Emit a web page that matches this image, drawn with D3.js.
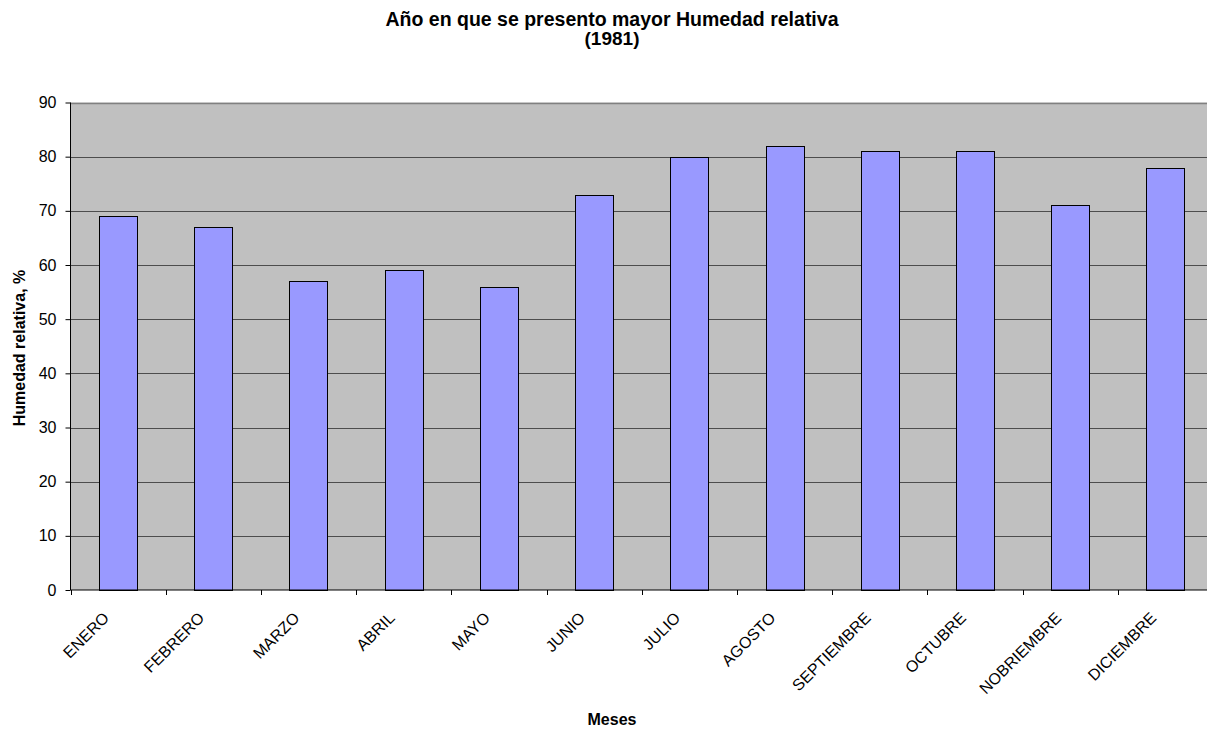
<!DOCTYPE html>
<html>
<head>
<meta charset="utf-8">
<script src="https://cdn.jsdelivr.net/npm/d3@7"></script>
<style>
  html, body { margin: 0; padding: 0; background: #fff; overflow: hidden; }
  svg { display: block; font-family: "Liberation Sans", Arial, sans-serif; }
</style>
</head>
<body>
<svg id="chart" width="1207" height="729"></svg>
<script>
// Monthly relative humidity for 1981
const months = ["ENERO", "FEBRERO", "MARZO", "ABRIL", "MAYO", "JUNIO",
  "JULIO", "AGOSTO", "SEPTIEMBRE", "OCTUBRE", "NOBRIEMBRE", "DICIEMBRE"];
const humidity = [69, 67, 57, 59, 56, 73, 80, 82, 81, 81, 71, 78];
const yTicks = [0, 10, 20, 30, 40, 50, 60, 70, 80, 90];

const title1 = "Año en que se presento mayor Humedad relativa";
const title2 = "(1981)";
const xTitle = "Meses";
const yTitle = "Humedad relativa, %";

const svg = d3.select("#chart");
const plot = { left: 70.5, right: 1213, top: 102.5, bottom: 590 };

const x = d3.scaleBand().domain(months).range([plot.left, plot.right]).padding(0);
const y = d3.scaleLinear().domain([0, 90]).range([plot.bottom, plot.top]);
const barW = x.bandwidth() * 0.4;

// plot background
svg.append("rect")
  .attr("x", plot.left).attr("y", plot.top)
  .attr("width", plot.right - plot.left).attr("height", plot.bottom - plot.top)
  .attr("fill", "#c0c0c0");

// horizontal gridlines
svg.append("g").selectAll("line").data(yTicks.filter(d => d > 0)).join("line")
  .attr("x1", plot.left).attr("x2", plot.right)
  .attr("y1", d => Math.round(y(d)) + 0.5).attr("y2", d => Math.round(y(d)) + 0.5)
  .attr("stroke", d => d === 90 ? "#808080" : "#4d4d4d")
  .attr("stroke-width", d => d === 90 ? 1.5 : 1);

// bars
svg.append("g").selectAll("rect").data(months).join("rect")
  .attr("x", (d) => Math.round(x(d) + (x.bandwidth() - barW) / 2) + 0.5)
  .attr("y", (d, i) => Math.round(y(humidity[i])) + 0.5)
  .attr("width", Math.round(barW))
  .attr("height", (d, i) => Math.round(y(0)) - Math.round(y(humidity[i])))
  .attr("fill", "#9999ff")
  .attr("stroke", "#000")
  .attr("stroke-width", 1);

// y axis
const yAxis = d3.axisLeft(y).tickValues(yTicks).tickSize(5).tickPadding(9);
const gy = svg.append("g")
  .attr("transform", `translate(${plot.left},0)`)
  .call(yAxis);
gy.select(".domain").attr("stroke", "#000").attr("d", `M0,${plot.top}V${plot.bottom}`);
gy.selectAll(".tick line").attr("stroke", "#000");
gy.selectAll(".tick text").attr("font-size", 16).attr("fill", "#000")
  .attr("font-family", "'Liberation Sans', Arial, sans-serif");

// x axis: ticks at category boundaries
const bounds = d3.range(months.length + 1).map(i => plot.left + i * x.step());
const gx = svg.append("g");
gx.append("line")
  .attr("x1", plot.left).attr("x2", plot.right)
  .attr("y1", plot.bottom).attr("y2", plot.bottom)
  .attr("stroke", "#000");
gx.selectAll("line.tk").data(bounds).join("line").attr("class", "tk")
  .attr("x1", d => Math.round(d) + 0.5).attr("x2", d => Math.round(d) + 0.5)
  .attr("y1", plot.bottom).attr("y2", plot.bottom + 5)
  .attr("stroke", "#000");
gx.selectAll("text").data(months).join("text")
  .attr("transform", d => `translate(${x(d) + x.bandwidth() / 2 - 8},${plot.bottom + 29}) rotate(-45)`)
  .attr("text-anchor", "end")
  .attr("font-size", 16)
  .attr("fill", "#000")
  .text(d => d);

// titles
svg.append("text").attr("x", 612).attr("y", 26)
  .attr("text-anchor", "middle").attr("font-weight", "bold").attr("font-size", 19.5)
  .text(title1);
svg.append("text").attr("x", 612).attr("y", 45)
  .attr("text-anchor", "middle").attr("font-weight", "bold").attr("font-size", 19)
  .text(title2);
svg.append("text").attr("x", 612).attr("y", 725)
  .attr("text-anchor", "middle").attr("font-weight", "bold").attr("font-size", 16)
  .text(xTitle);
svg.append("text")
  .attr("transform", `translate(25,348) rotate(-90)`)
  .attr("text-anchor", "middle").attr("font-weight", "bold").attr("font-size", 16)
  .text(yTitle);
</script>
</body>
</html>
